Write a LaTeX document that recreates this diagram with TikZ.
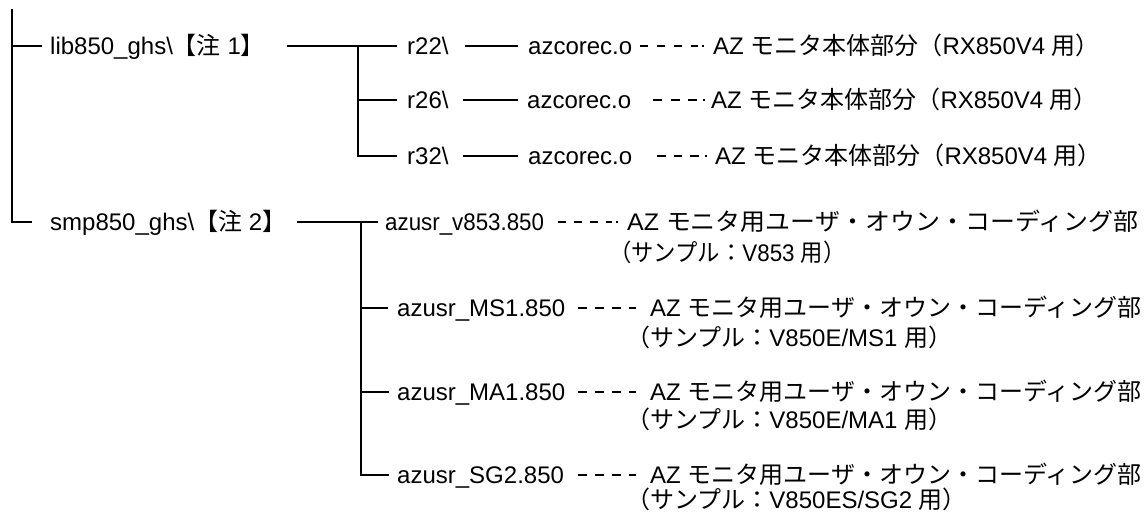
\documentclass[tikz,border=0pt]{standalone}
\usepackage{fontspec}
\setmainfont{Liberation Sans}
\newfontfamily\jpfont{Noto Sans CJK JP}
\newcommand\J[1]{{\jpfont #1}}
\begin{document}
\begin{tikzpicture}[x=1pt,y=-1pt,
  lbl/.style={inner sep=0pt, anchor=west, text height=17pt, text depth=0pt,
              font=\fontsize{24}{30}\selectfont},
  tree/.style={line width=1.8pt},
  dotsp/.style={line width=1.8pt, dash pattern=#1}]
\useasboundingbox (0,0) rectangle (1148,513);

% top level
\coordinate (top) at (12,9);
\node[lbl] (lib) at (50,46) {lib850\_ghs\textbackslash\J{【注} 1\J{】}};
\node[lbl] (smp) at (50,222) {smp850\_ghs\textbackslash\J{【注} 2\J{】}};

% lib850 branch
\node[lbl] (r22) at (407,46) {r22\textbackslash};
\node[lbl] (r26) at (407,100) {r26\textbackslash};
\node[lbl] (r32) at (407,156) {r32\textbackslash};
\node[lbl] (c22) at (528,46) {azcorec.o};
\node[lbl] (c26) at (527,100) {azcorec.o};
\node[lbl] (c32) at (528,156) {azcorec.o};
\node[lbl] (d22) at (713,46) {AZ \J{モニタ本体部分（}RX850V4 \J{用）}};
\node[lbl] (d26) at (711,100) {AZ \J{モニタ本体部分（}RX850V4 \J{用）}};
\node[lbl] (d32) at (715,156) {AZ \J{モニタ本体部分（}RX850V4 \J{用）}};

% smp850 branch
\node[lbl] (v853) at (385,222) {\scalebox{0.93}[1]{azusr\_v853.850}};
\node[lbl] (ms1)  at (397,308) {azusr\_MS1.850};
\node[lbl] (ma1)  at (397,392) {azusr\_MA1.850};
\node[lbl] (sg2)  at (397,475) {azusr\_SG2.850};
\node[lbl] (v853d) at (627,222) {\scalebox{1.04}[1]{AZ \J{モニタ用ユーザ・オウン・コーディング部}}};
\node[lbl] (ms1d)  at (650,308) {AZ \J{モニタ用ユーザ・オウン・コーディング部}};
\node[lbl] (ma1d)  at (650,392) {AZ \J{モニタ用ユーザ・オウン・コーディング部}};
\node[lbl] (sg2d)  at (650,475) {AZ \J{モニタ用ユーザ・オウン・コーディング部}};
\node[lbl] (v853s) at (609,253) {\scalebox{0.93}[1]{\J{（サンプル：}V853 \J{用）}}};
\node[lbl] (ms1s)  at (626,338) {\J{（サンプル：}V850E/MS1 \J{用）}};
\node[lbl] (ma1s)  at (626,420) {\J{（サンプル：}V850E/MA1 \J{用）}};
\node[lbl] (sg2s)  at (626,500) {\J{（サンプル：}V850ES/SG2 \J{用）}};

% main tree
\draw[tree] (top) |- ([xshift=-18pt]smp.west);
\draw[tree] (top|-lib.west) -- ([xshift=-8pt]lib.west);

% lib850 connectors
\coordinate (j1) at ([xshift=-49pt]r22.west);
\draw[tree] ([xshift=237pt]lib.west) -- ([xshift=-10pt]r22.west);
\draw[tree] (j1) |- ([xshift=-10pt]r32.west);
\draw[tree] (j1|-r26.west) -- ([xshift=-10pt]r26.west);
\draw[tree] ([xshift=58pt]r22.west) -- ([xshift=-10pt]c22.west);
\draw[tree] ([xshift=56pt]r26.west) -- ([xshift=-9pt]c26.west);
\draw[tree] ([xshift=56pt]r32.west) -- ([xshift=-10pt]c32.west);
\draw[dotsp={on 8pt off 9pt on 8pt off 9pt on 8pt off 9pt on 7pt off 4pt on 2pt}]
  ([xshift=112pt]c22.west) -- ([xshift=-8pt]d22.west);
\draw[dotsp={on 9pt off 8.5pt on 9pt off 8.5pt on 9pt off 6pt on 2pt}]
  ([xshift=126pt]c26.west) -- ([xshift=-6pt]d26.west);
\draw[dotsp={on 8.5pt off 8pt on 8.5pt off 8pt on 8.5pt off 6.5pt on 2pt}]
  ([xshift=129pt]c32.west) -- ([xshift=-8pt]d32.west);

% smp850 connectors
\coordinate (j2) at ([xshift=-24pt]v853.west);
\draw[tree] ([xshift=247pt]smp.west) -- ([xshift=-7pt]v853.west);
\draw[tree] (j2) |- ([xshift=-8pt]sg2.west);
\draw[tree] (j2|-ms1.west) -- ([xshift=-9pt]ms1.west);
\draw[tree] (j2|-ma1.west) -- ([xshift=-8pt]ma1.west);
\draw[dotsp={on 8pt off 8pt on 8pt off 8pt on 8pt off 8pt on 6pt off 4pt on 2pt}]
  ([xshift=173pt]v853.west) -- ([xshift=-8pt]v853d.west);
\draw[dotsp={on 9pt off 8pt}] ([xshift=181pt]ms1.west) -- ([xshift=-14pt]ms1d.west);
\draw[dotsp={on 9pt off 8pt}] ([xshift=181pt]ma1.west) -- ([xshift=-14pt]ma1d.west);
\draw[dotsp={on 9pt off 8pt}] ([xshift=181pt]sg2.west) -- ([xshift=-14pt]sg2d.west);
\end{tikzpicture}
\end{document}
